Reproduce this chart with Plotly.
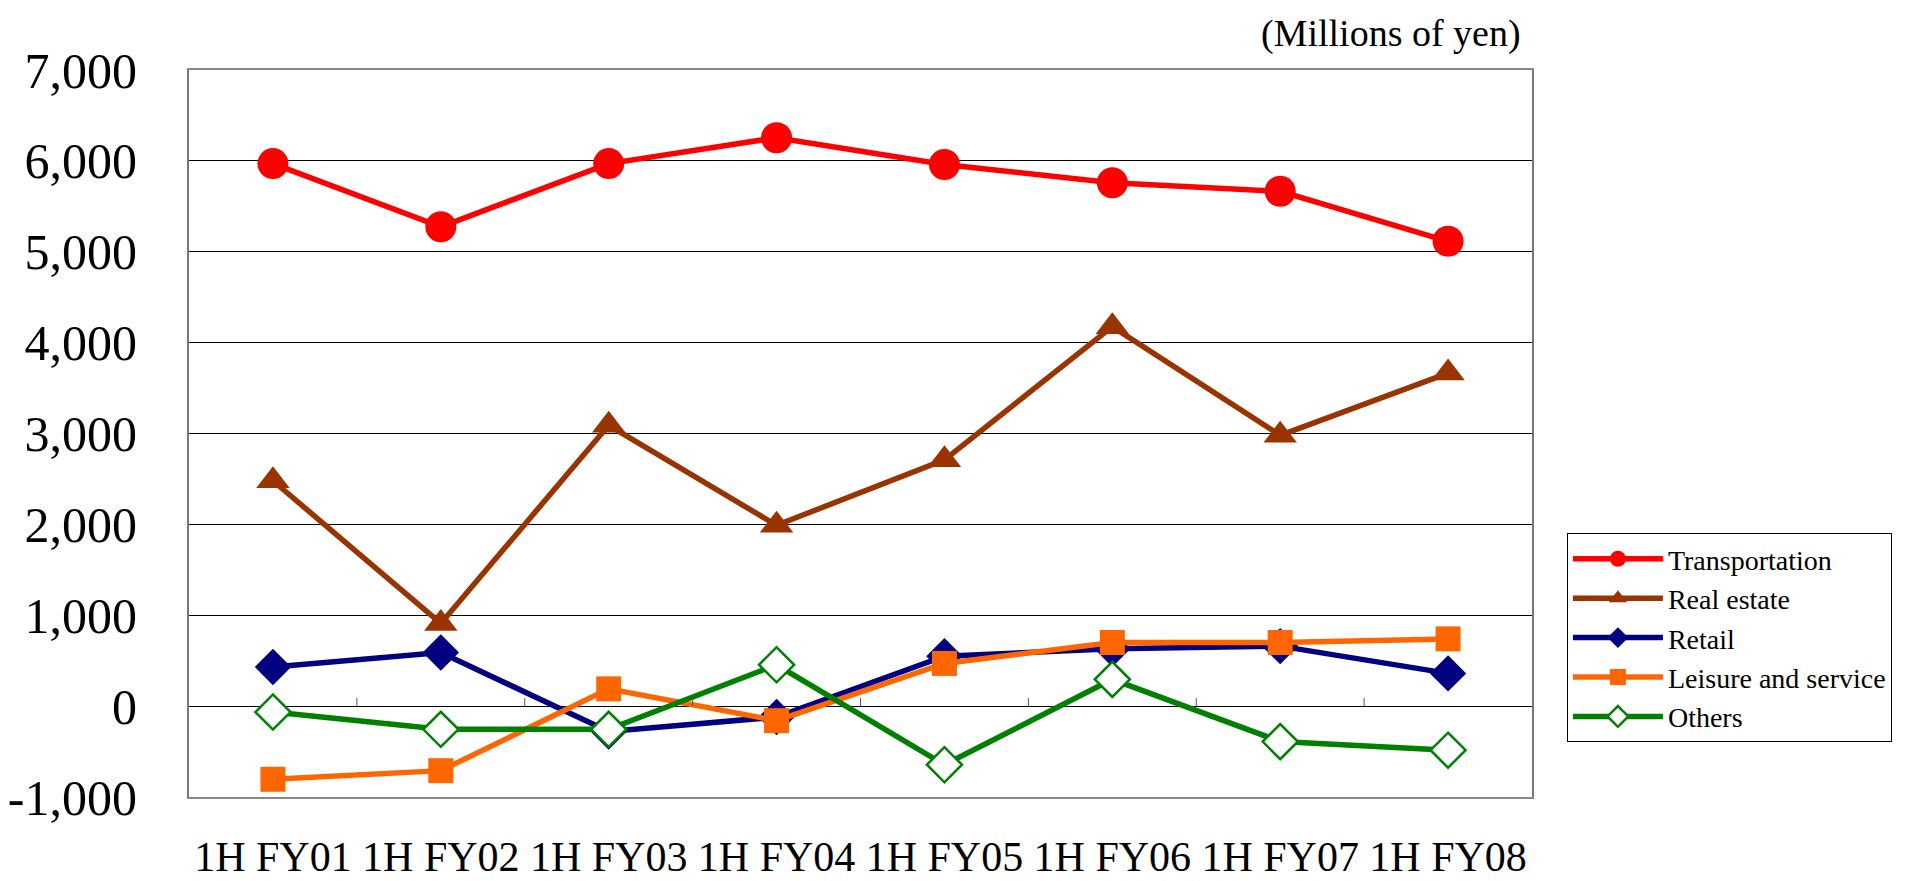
import plotly.graph_objects as go

categories = ["1H FY01", "1H FY02", "1H FY03", "1H FY04", "1H FY05", "1H FY06", "1H FY07", "1H FY08"]
transportation = [5970, 5275, 5970, 6255, 5960, 5760, 5665, 5115]
real_estate = [2480, 910, 3090, 1990, 2710, 4175, 2980, 3665]
retail = [430, 590, -280, -120, 550, 630, 660, 360]
leisure = [-805, -710, 190, -160, 470, 700, 700, 740]
others = [-65, -255, -255, 455, -645, 295, -390, -485]
y_ticks = [-1000, 0, 1000, 2000, 3000, 4000, 5000, 6000, 7000]
y_tick_labels = ["-1,000", "0", "1,000", "2,000", "3,000", "4,000", "5,000", "6,000", "7,000"]

FONT = "Liberation Serif"
x_idx = list(range(len(categories)))

series = [
    ("Transportation", transportation, "#FF0000", "circle", 31, None),
    ("Real estate", real_estate, "#993300", "triangle-up", 29, None),
    ("Retail", retail, "#000080", "diamond", 28, None),
    ("Leisure and service", leisure, "#FF6600", "square", 25, None),
    ("Others", others, "#008000", "diamond", 27, "white"),
]

fig = go.Figure()
for name, vals, color, sym, size, fill in series:
    fig.add_trace(go.Scatter(
        x=x_idx, y=vals, name=name, mode="lines+markers",
        line=dict(color=color, width=5.5),
        marker=dict(symbol=sym, size=size, color=fill if fill else color,
                    line=dict(color=color, width=2.5 if fill else 0)),
    ))

# small category-boundary ticks on the zero axis (Excel style)
for i in range(len(categories) - 1):
    fig.add_shape(type="line", xref="x", yref="y", x0=i + 0.5, x1=i + 0.5,
                  y0=0, y1=90, line=dict(color="#555", width=1))

fig.update_layout(
    width=1906, height=873,
    margin=dict(l=181, r=382, t=62, b=84, autoexpand=False),
    paper_bgcolor="white", plot_bgcolor="white",
    font=dict(family=FONT, color="black"),
    showlegend=True,
    legend=dict(x=1.026, y=0.363, xanchor="left", yanchor="top",
                bordercolor="black", borderwidth=1, bgcolor="white",
                font=dict(family=FONT, size=28), tracegroupgap=0,
                itemwidth=90),
    annotations=[dict(text="(Millions of yen)", xref="paper", yref="paper",
                      x=0.993, y=1.05, xanchor="right", yanchor="middle",
                      showarrow=False, font=dict(family=FONT, size=38))],
)
fig.update_xaxes(
    range=[-0.5, 7.5], tickmode="array", tickvals=x_idx, ticktext=categories,
    showgrid=False, zeroline=False, showline=True, mirror=True,
    linecolor="#888", linewidth=2, ticks="", automargin=False,
    tickfont=dict(family=FONT, size=42), ticklabelstandoff=22,
)
fig.update_yaxes(
    range=[-1000, 7000], tickmode="array", tickvals=y_ticks, ticktext=y_tick_labels,
    showgrid=True, gridcolor="#000", gridwidth=1, zeroline=True,
    zerolinecolor="#000", zerolinewidth=1, automargin=False,
    showline=True, mirror=True, linecolor="#777", linewidth=2, ticks="",
    tickfont=dict(family=FONT, size=50), ticklabelstandoff=40,
)

fig.write_html("out.html")
